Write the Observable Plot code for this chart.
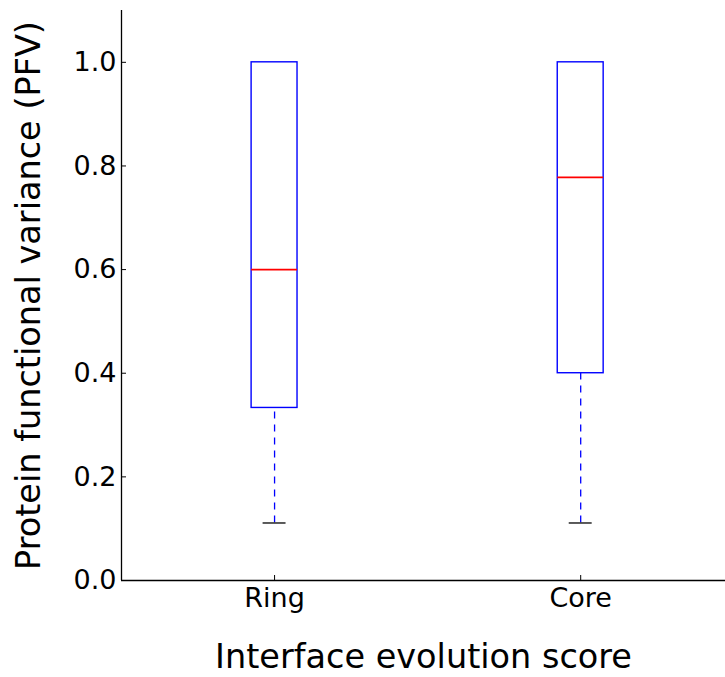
<!DOCTYPE html>
<html>
<head>
<meta charset="utf-8">
<script src="https://cdn.jsdelivr.net/npm/d3@7"></script>
<script src="https://cdn.jsdelivr.net/npm/@observablehq/plot@0.6"></script>
<style>
  html, body { margin: 0; padding: 0; background: #fff; }
  svg { font-family: "DejaVu Sans", sans-serif; }
  svg g[aria-label="x-axis label"] text, svg g[aria-label="y-axis label"] text { font-size: 33.5px; }
</style>
</head>
<body>
<div id="chart"></div>
<script>
const categories = ["Ring", "Core"];
const positions = [1, 2];
const q1 = [0.333, 0.4];
const median = [0.6, 0.778];
const q3 = [1.0, 1.0];
const whiskerLow = [0.111, 0.111];
const whiskerHigh = [1.0, 1.0];
const yTicks = [0, 0.2, 0.4, 0.6, 0.8, 1.0];

const boxWidth = 0.15;
const data = categories.map((c, i) => ({
  cat: c, pos: positions[i], q1: q1[i], med: median[i], q3: q3[i],
  lo: whiskerLow[i], hi: whiskerHigh[i]
}));

const chart = Plot.plot({
  width: 725,
  height: 677,
  marginLeft: 121,
  marginTop: 10,
  marginRight: 0,
  marginBottom: 97,
  style: { fontFamily: "DejaVu Sans, sans-serif", background: "#fff" },
  x: { domain: [0.5, 2.473], range: [121, 725] },
  y: { domain: [0, 1.1] },
  marks: [
    Plot.ruleX(data.filter(d => d.hi > d.q3), { x: "pos", y1: "q3", y2: "hi", stroke: "#0000ff", strokeDasharray: "7,6" }),
    Plot.ruleX(data, { x: "pos", y1: "lo", y2: "q1", stroke: "#0000ff", strokeWidth: 1.3, strokeDasharray: "7,6" }),
    Plot.ruleY(data, { y: "lo", x1: d => d.pos - boxWidth / 4, x2: d => d.pos + boxWidth / 4, stroke: "#333", strokeWidth: 1.6 }),
    Plot.rect(data, { x1: d => d.pos - boxWidth / 2, x2: d => d.pos + boxWidth / 2, y1: "q1", y2: "q3", fill: "none", stroke: "#0000ff", strokeWidth: 1.4 }),
    Plot.ruleY(data, { y: "med", x1: d => d.pos - boxWidth / 2, x2: d => d.pos + boxWidth / 2, stroke: "#ff0000", strokeWidth: 1.6 }),
    Plot.axisY({ ticks: yTicks, tickFormat: d3.format(".1f"), tickSize: -5, tickPadding: 10, fontSize: 27, color: "#000",
      label: "Protein functional variance (PFV)", labelAnchor: "center", labelArrow: "none", labelOffset: 105 }),
    Plot.axisX({ ticks: positions, tickFormat: d => categories[positions.indexOf(d)], tickSize: -5, tickPadding: 12, fontSize: 27,
      label: null }),
    Plot.axisX({ ticks: [], label: "Interface evolution score", labelAnchor: "center", labelArrow: "none", labelOffset: 87, dx: 5 }),
    Plot.ruleX([0.5], { stroke: "#000", strokeWidth: 1.3 }),
    Plot.ruleY([0], { stroke: "#000", strokeWidth: 1.3 })
  ]
});
document.getElementById("chart").append(chart);
</script>
</body>
</html>
